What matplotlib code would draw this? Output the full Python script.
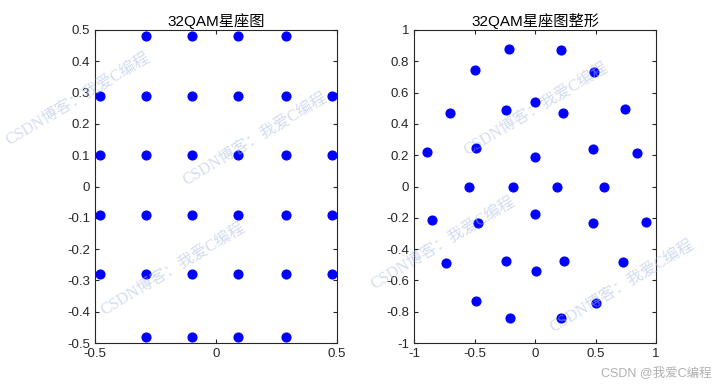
import numpy as np
import matplotlib.pyplot as plt

plt.rcParams['font.family'] = ['Liberation Sans', 'Noto Sans CJK SC', 'DejaVu Sans']

# 32QAM 星座点 (left)
qam_x = [-0.29, -0.10, 0.09, 0.29,
         -0.48, -0.29, -0.10, 0.09, 0.29, 0.48,
         -0.48, -0.29, -0.10, 0.09, 0.29, 0.48,
         -0.48, -0.29, -0.10, 0.09, 0.29, 0.48,
         -0.48, -0.29, -0.10, 0.09, 0.29, 0.48,
         -0.29, -0.10, 0.09, 0.29]
qam_y = [0.48, 0.48, 0.48, 0.48,
         0.29, 0.29, 0.29, 0.29, 0.29, 0.29,
         0.10, 0.10, 0.10, 0.10, 0.10, 0.10,
         -0.09, -0.09, -0.09, -0.09, -0.09, -0.09,
         -0.28, -0.28, -0.28, -0.28, -0.28, -0.28,
         -0.48, -0.48, -0.48, -0.48]

# 整形后的星座点 (right)
shp_x = [-0.215, 0.217,
         -0.493, 0.49,
         -0.70, -0.242, 0.0, 0.234, 0.744,
         -0.893, -0.488, 0.0, 0.477, 0.84,
         -0.548, -0.184, 0.184, 0.573,
         -0.849, -0.474, 0.003, 0.477, 0.917,
         -0.733, -0.237, 0.005, 0.24, 0.73,
         -0.488, 0.50,
         -0.207, 0.215]
shp_y = [0.877, 0.87,
         0.744, 0.734,
         0.472, 0.489, 0.542, 0.47, 0.495,
         0.222, 0.248, 0.187, 0.24, 0.212,
         0.0, 0.0, 0.0, 0.0,
         -0.214, -0.235, -0.178, -0.235, -0.229,
         -0.487, -0.474, -0.538, -0.474, -0.482,
         -0.732, -0.746,
         -0.842, -0.842]

W, H = 726, 386
fig = plt.figure(figsize=(W / 100, H / 100), dpi=100)
ax1 = fig.add_axes([95 / W, (H - 343) / H, 242 / W, 313 / H])
ax2 = fig.add_axes([414 / W, (H - 343) / H, 242 / W, 313 / H])

ax1.plot(qam_x, qam_y, 'o', color=(0, 0, 1), markersize=6.3)
ax1.set_xlim(-0.5, 0.5)
ax1.set_ylim(-0.5, 0.5)
ax1.set_xticks([-0.5, 0, 0.5])
ax1.set_xticklabels(['-0.5', '0', '0.5'])
ax1.set_yticks(np.round(np.arange(-0.5, 0.51, 0.1), 1))
ax1.set_yticklabels(['-0.5', '-0.4', '-0.3', '-0.2', '-0.1', '0', '0.1', '0.2', '0.3', '0.4', '0.5'])
ax1.set_title('32QAM星座图', fontsize=11, pad=3)

ax2.plot(shp_x, shp_y, 'o', color=(0, 0, 1), markersize=6.3)
ax2.set_xlim(-1, 1)
ax2.set_ylim(-1, 1)
ax2.set_xticks([-1, -0.5, 0, 0.5, 1])
ax2.set_xticklabels(['-1', '-0.5', '0', '0.5', '1'])
ax2.set_yticks(np.round(np.arange(-1, 1.01, 0.2), 1))
ax2.set_yticklabels(['-1', '-0.8', '-0.6', '-0.4', '-0.2', '0', '0.2', '0.4', '0.6', '0.8', '1'])
ax2.set_title('32QAM星座图整形', fontsize=11, pad=3)

for ax in (ax1, ax2):
    ax.tick_params(direction='in', top=True, right=True, labelsize=9.5,
                   length=3, color='#262626', labelcolor='#262626')
    for s in ax.spines.values():
        s.set_color('#262626')
        s.set_linewidth(0.8)

# 水印
marks = [(78, 100), (255, 140), (173, 270), (536, 110), (443, 244), (622, 287)]
for px, py in marks:
    fig.text(px / W, 1 - py / H, 'CSDN博客：我爱C编程', rotation=31,
             ha='center', va='center', fontsize=11.5, color=(0.66, 0.73, 0.88),
             alpha=0.5, family=['Liberation Serif', 'Noto Sans CJK SC'])
fig.text(712 / W, 1 - 373 / H, 'CSDN @我爱C编程', ha='right', va='center',
         fontsize=9, color='#b0b0b0')

fig.savefig('out.png', dpi=100)
